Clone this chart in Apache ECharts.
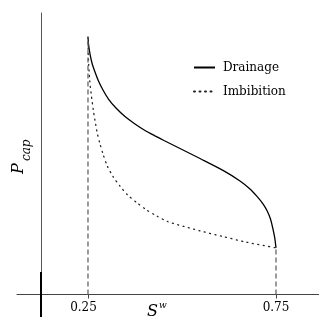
<!DOCTYPE html>
<html>
<head>
<meta charset="utf-8">
<script src="https://cdn.jsdelivr.net/npm/echarts@6/dist/echarts.min.js"></script>
<style>
html,body{margin:0;padding:0;background:#fff}
#main{width:319px;height:317px}
</style>
</head>
<body>
<div id="main"></div>
<script>
// water saturation / capillary pressure
var drainageS = [0.25, 0.2516, 0.2553, 0.2606, 0.2686, 0.2779, 0.2899, 0.3045, 0.3245, 0.3484, 0.375, 0.4016, 0.4282, 0.4521, 0.4947, 0.5479, 0.609, 0.6543, 0.6809, 0.6995, 0.7154, 0.726, 0.7354, 0.742, 0.7468, 0.75];
var drainageP = [10.0, 9.69, 9.34, 8.99, 8.64, 8.29, 7.94, 7.59, 7.24, 6.91, 6.62, 6.37, 6.16, 5.98, 5.67, 5.28, 4.82, 4.41, 4.10, 3.81, 3.52, 3.26, 2.93, 2.54, 2.19, 1.81];
var imbibitionS = [0.25, 0.2513, 0.2545, 0.2588, 0.2641, 0.2684, 0.2747, 0.2819, 0.2907, 0.3013, 0.3165, 0.3351, 0.3556, 0.3795, 0.4061, 0.4327, 0.462, 0.5053, 0.5479, 0.609, 0.672, 0.75];
var imbibitionP = [10.0, 9.11, 8.33, 7.75, 7.17, 6.78, 6.27, 5.85, 5.42, 4.99, 4.58, 4.21, 3.86, 3.57, 3.28, 3.05, 2.83, 2.64, 2.47, 2.25, 2.03, 1.81];
var tickValues = [0.25, 0.75];
var guideLeft = [[0.25, 0], [0.25, 10.0]];
var guideRight = [[0.75, 0], [0.75, 1.81]];
var axisStub = [[0.125, -0.874], [0.125, 0.874]];

function pairs(xs, ys){
	var out = [];
	for (var i = 0; i < xs.length; i++) out.push([xs[i], ys[i]]);
	return out;
}

var myChart = echarts.init(document.getElementById('main'));
var serif = 'DejaVu Serif';
option = {
	animation: false,
	grid: {left: 17, right: 0, top: 13, bottom: 22.5, containLabel: false, outerBoundsMode: 'none'},
	legend: {
		data: ['Drainage', 'Imbibition'],
		orient: 'vertical',
		left: 193,
		top: 61.5,
		padding: 0,
		itemWidth: 21,
		itemHeight: 14,
		itemGap: 12,
		itemStyle: {opacity: 0},
		textStyle: {fontFamily: serif, fontSize: 12, color: '#000', padding: [0, 0, 0, 3]}
	},
	xAxis: {
		type: 'value',
		min: 0.0612,
		max: 0.8644,
		axisLine: {onZero: false, lineStyle: {color: '#444', width: 1}},
		axisTick: {customValues: tickValues, length: 4, lineStyle: {color: '#444'}},
		axisLabel: {
			show: true,
			customValues: tickValues,
			margin: 7,
			fontFamily: serif,
			fontSize: 12,
			color: '#000',
			formatter: function(v){ return v == 0.25 ? '{l|0.25}' : '0.75'; },
			rich: {l: {fontFamily: serif, fontSize: 12, color: '#000', padding: [0, 9, 0, 0]}}
		},
		splitLine: {show: false}
	},
	yAxis: {
		type: 'value',
		min: 0,
		max: 10.93,
		offset: -24,
		axisLine: {show: true, onZero: false, lineStyle: {color: '#555', width: 1}},
		axisTick: {show: false},
		axisLabel: {show: false},
		splitLine: {show: false}
	},
	graphic: [
		{type: 'group', x: 25, y: 174, rotation: Math.PI / 2, children: [
			{type: 'text', x: 0, y: -6, style: {text: 'P', fontFamily: serif, fontStyle: 'italic', fontSize: 16, fill: '#000', align: 'left', verticalAlign: 'middle'}},
			{type: 'text', x: 13, y: 2, style: {text: 'cap', fontFamily: serif, fontStyle: 'italic', fontSize: 12, fill: '#000', align: 'left', verticalAlign: 'middle'}}
		]},
		{type: 'text', x: 147, y: 312, style: {text: 'S', fontFamily: serif, fontStyle: 'italic', fontSize: 16, fill: '#000', align: 'left', verticalAlign: 'middle'}},
		{type: 'text', x: 159, y: 306, style: {text: 'w', fontFamily: serif, fontStyle: 'italic', fontSize: 9, fill: '#000', align: 'left', verticalAlign: 'middle'}}
	],
	series: [
		{name: 'Drainage', type: 'line', data: pairs(drainageS, drainageP), symbol: 'none', smooth: 0.25,
			lineStyle: {color: '#000', width: 1.3}, itemStyle: {color: '#000'}},
		{name: 'Imbibition', type: 'line', data: pairs(imbibitionS, imbibitionP), symbol: 'none', smooth: 0.25,
			lineStyle: {color: '#222', width: 1.3, type: [1, 4.5], cap: 'round'}, itemStyle: {color: '#222'}},
		{name: 'guide1', type: 'line', data: guideLeft, symbol: 'none',
			lineStyle: {color: '#666', width: 1.3, type: [5, 3]}},
		{name: 'guide2', type: 'line', data: guideRight, symbol: 'none',
			lineStyle: {color: '#666', width: 1.3, type: [5, 3]}},
		{name: 'stub', type: 'line', data: axisStub, symbol: 'none', clip: false, z: 5,
			lineStyle: {color: '#000', width: 2}}
	]
};
myChart.setOption(option);
</script>
</body>
</html>
